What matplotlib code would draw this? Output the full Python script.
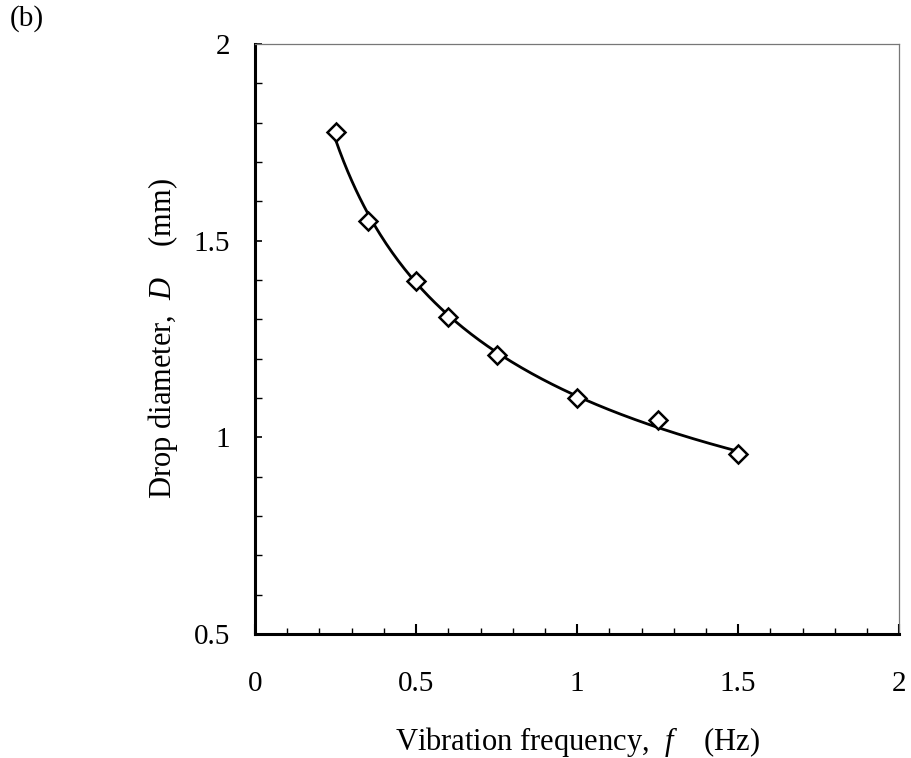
import numpy as np
import matplotlib.pyplot as plt
from matplotlib.ticker import MultipleLocator

plt.rcParams['font.family'] = 'Liberation Serif'
plt.rcParams['mathtext.fontset'] = 'custom'
plt.rcParams['mathtext.it'] = 'Liberation Serif:italic'
plt.rcParams['mathtext.rm'] = 'Liberation Serif'

# the data
freq = [0.25, 0.35, 0.5, 0.6, 0.75, 1.0, 1.25, 1.5]
diam = [1.776, 1.55, 1.397, 1.307, 1.209, 1.10, 1.045, 0.957]

# power law trend line, D = a f^b
b, log_a = np.polyfit(np.log(freq), np.log(diam), 1)
f_fit = np.linspace(min(freq), max(freq), 200)
d_fit = np.exp(log_a) * f_fit ** b

fig = plt.figure(figsize=(9.11, 7.58), dpi=100)
ax = fig.add_axes([0.280, 0.1636, 0.707, 0.7784])

ax.plot(f_fit, d_fit, color='black', linewidth=2)
ax.plot(freq, diam, linestyle='none', marker='D', markersize=9,
        markerfacecolor='white', markeredgecolor='black', markeredgewidth=1.8)

ax.set_xlim(0, 2)
ax.set_ylim(0.5, 2)
ax.xaxis.set_minor_locator(MultipleLocator(0.1))
ax.yaxis.set_minor_locator(MultipleLocator(0.1))
ax.set_yticks([0.5, 1, 1.5, 2])
ax.set_yticklabels(['0.5', '1', '1.5', '2'])
ax.set_xticks([0, 0.5, 1, 1.5, 2])
ax.set_xticklabels(['0', '0.5', '1', '1.5', '2'])

ax.tick_params(axis='x', which='major', direction='in', length=7, width=1.5,
               labelsize=21, pad=27)
ax.tick_params(axis='x', which='minor', direction='in', length=4.5, width=1)
ax.tick_params(axis='y', which='major', direction='in', length=5, width=1.2,
               labelsize=21, pad=18)
ax.tick_params(axis='y', which='minor', direction='in', length=5, width=1)

for side in ['left', 'bottom']:
    ax.spines[side].set_linewidth(2.2)
    ax.spines[side].set_color('black')
for side in ['top', 'right']:
    ax.spines[side].set_linewidth(0.9)
    ax.spines[side].set_color('#777777')

ax.set_xlabel('Vibration frequency,  $\\mathit{f}$    (Hz)', fontsize=22, labelpad=20)
ax.set_ylabel('Drop diameter,  $\\mathit{D}$    (mm)', fontsize=22, labelpad=10)

fig.text(0.011, 0.976, '(b)', fontsize=21, va='center', ha='left')

fig.savefig('out.png', dpi=100)
